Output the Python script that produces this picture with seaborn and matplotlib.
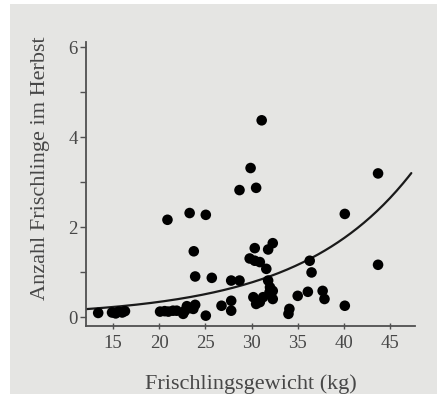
import numpy as np
import pandas as pd
import matplotlib
matplotlib.use("Agg")
import matplotlib.pyplot as plt
import seaborn as sns
from matplotlib.patches import Rectangle

# Data
weight_kg = [13.4, 14.9, 15.3, 15.6, 16.0, 16.3,
             20.1, 20.6, 21.0, 21.5, 21.9, 22.6, 22.8, 23.0, 23.4, 23.7, 23.9,
             25.05, 26.75, 23.9, 25.7, 23.75, 20.9, 23.3, 25.05,
             27.8, 27.8, 27.8, 28.7, 28.7, 29.9, 30.5, 31.1,
             29.8, 30.35, 30.9, 30.35, 31.8, 32.3, 31.6, 31.8, 32.0, 32.3,
             30.2, 30.5, 30.9, 31.25, 32.3, 31.95,
             34.1, 34.0, 35.0, 36.3, 36.5, 36.1, 37.7, 37.9,
             40.1, 40.1, 43.7, 43.7]
piglets_autumn = [0.09, 0.10, 0.08, 0.12, 0.10, 0.13,
                  0.12, 0.13, 0.12, 0.14, 0.14, 0.07, 0.14, 0.24, 0.20, 0.18, 0.27,
                  0.03, 0.25, 0.90, 0.87, 1.46, 2.16, 2.31, 2.27,
                  0.36, 0.14, 0.81, 0.81, 2.82, 3.31, 2.87, 4.37,
                  1.30, 1.25, 1.22, 1.53, 1.50, 1.64, 1.07, 0.81, 0.66, 0.58,
                  0.44, 0.29, 0.33, 0.44, 0.40, 0.55,
                  0.18, 0.07, 0.47, 1.25, 0.99, 0.56, 0.58, 0.40,
                  2.29, 0.25, 3.19, 1.16]

# Fitted exponential (Poisson-type) curve: y = exp(b0 + b1 * x)
fit_b0 = -2.74
fit_b1 = 0.0825
fit_x_range = [12.1, 47.3]

x_ticks = [15, 20, 25, 30, 35, 40, 45]
y_ticks = [0, 2, 4, 6]
y_minor = [1, 3, 5]
x_label = "Frischlingsgewicht (kg)"
y_label = "Anzahl Frischlinge im Herbst"

df = pd.DataFrame({"x": weight_kg, "y": piglets_autumn})
cx = np.linspace(fit_x_range[0], fit_x_range[1], 200)
curve = pd.DataFrame({"x": cx, "y": np.exp(fit_b0 + fit_b1 * cx)})

sns.set_theme(style="ticks")
plt.rcParams["font.family"] = ["Liberation Serif", "DejaVu Serif"]

W, H = 437, 402
fig = plt.figure(figsize=(W / 100, H / 100), dpi=100, facecolor="white")
panel_col = "#e5e5e3"
fig.patches.append(Rectangle((10 / W, 7 / H), (W - 10) / W, (H - 12) / H,
                             transform=fig.transFigure, facecolor=panel_col,
                             edgecolor="none", zorder=-10))

ax = fig.add_axes([86 / W, (H - 327) / H, (415 - 86) / W, (327 - 43) / H])
ax.set_zorder(5)
ax.set_facecolor("none")

sns.lineplot(data=curve, x="x", y="y", ax=ax, color="#1a1a1a", linewidth=1.6, zorder=2)
sns.scatterplot(data=df, x="x", y="y", ax=ax, color="black", s=58,
                edgecolor="none", linewidth=0, zorder=3)

ax.set_xlim(12.08, 47.7)
ax.set_ylim(-0.2, 6.11)
ax.set_xticks(x_ticks)
ax.set_yticks(y_ticks)
ax.set_yticks(y_minor, minor=True)

txt_col = "#474747"
for s in ["top", "right"]:
    ax.spines[s].set_visible(False)
for s in ["left", "bottom"]:
    ax.spines[s].set_color("#505050")
    ax.spines[s].set_linewidth(1.3)

ax.tick_params(axis="x", direction="inout", length=5, width=1, color="#505050",
               labelsize=13.5, labelcolor=txt_col, pad=3)
ax.tick_params(axis="y", which="major", direction="out", length=4, width=1,
               color="#505050", labelsize=13.5, labelcolor=txt_col, pad=2)
ax.tick_params(axis="y", which="minor", direction="out", length=4, width=1,
               color="#505050")

ax.set_xlabel(x_label, fontsize=16, color=txt_col, labelpad=16)
ax.set_ylabel(y_label, fontsize=16, color=txt_col)
ax.yaxis.set_label_coords(-0.11, 0.56)

fig.savefig("out.png", dpi=100, facecolor="white")
